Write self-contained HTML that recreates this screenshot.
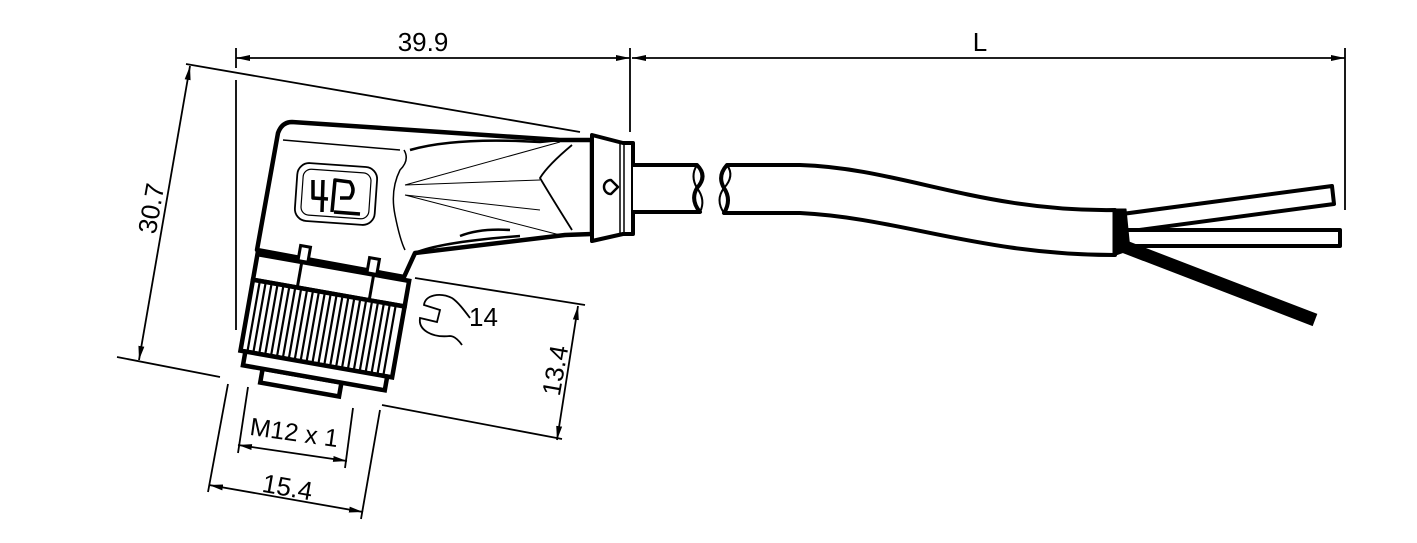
<!DOCTYPE html>
<html><head><meta charset="utf-8"><style>
html,body{margin:0;padding:0;background:#fff;width:1417px;height:543px;overflow:hidden}
text{font-family:"Liberation Sans",Arial,sans-serif;fill:#000}
</style></head><body>
<svg width="1417" height="543" viewBox="0 0 1417 543" xmlns="http://www.w3.org/2000/svg">
<defs>
<marker id="a" markerWidth="14" markerHeight="8" refX="14" refY="4" orient="auto" markerUnits="userSpaceOnUse"><path d="M0,1 L14,4 L0,7 Z" fill="#000"/></marker>
<marker id="b" markerWidth="14" markerHeight="8" refX="0" refY="4" orient="auto" markerUnits="userSpaceOnUse"><path d="M14,1 L0,4 L14,7 Z" fill="#000"/></marker>
</defs>
<g stroke="#000" fill="none" stroke-width="1.8">
<line x1="236" y1="48" x2="236" y2="68"/>
<line x1="630" y1="48" x2="630" y2="132"/>
<line x1="1345" y1="48" x2="1345" y2="210"/>
<line x1="236" y1="58" x2="630" y2="58" marker-start="url(#b)" marker-end="url(#a)"/>
<line x1="632" y1="58" x2="1345" y2="58" marker-start="url(#b)" marker-end="url(#a)"/>
<line x1="236" y1="80" x2="236" y2="330"/>
<line x1="186" y1="64" x2="580" y2="132"/>
<line x1="117" y1="357" x2="220" y2="377"/>
<line x1="190" y1="66" x2="139" y2="360" marker-start="url(#b)" marker-end="url(#a)"/>
<line x1="415" y1="278" x2="585" y2="305"/>
<line x1="382" y1="405" x2="562" y2="439"/>
<line x1="578" y1="306" x2="557" y2="440" marker-start="url(#b)" marker-end="url(#a)"/>
<line x1="248" y1="387" x2="238" y2="453"/>
<line x1="353" y1="408" x2="345" y2="468"/>
<line x1="238" y1="445" x2="347" y2="461" marker-start="url(#b)" marker-end="url(#a)"/>
<line x1="228" y1="384" x2="208" y2="492"/>
<line x1="380" y1="410" x2="361" y2="519"/>
<line x1="209" y1="485" x2="363" y2="512" marker-start="url(#b)" marker-end="url(#a)"/>
</g>
<text x="423" y="51" font-size="26" text-anchor="middle">39.9</text>
<text x="980" y="51" font-size="26" text-anchor="middle">L</text>
<text font-size="26" text-anchor="middle" transform="translate(160,210) rotate(-80)">30.7</text>
<text font-size="26" text-anchor="middle" transform="translate(564,372) rotate(-80)">13.4</text>
<text font-size="25" text-anchor="middle" transform="translate(293,441) rotate(8)">M12 x 1</text>
<text font-size="26" text-anchor="middle" transform="translate(286,496) rotate(10)">15.4</text>
<text x="469" y="326" font-size="26">14</text>
<path d="M452,298 C440,292 425,295 424,305 L440,310 L437,322 L420,318 C418,330 432,338 450,336 C455,336 460,342 462,345 M452,298 C458,302 464,310 470,318" stroke="#000" stroke-width="1.8" fill="none"/>
<g stroke="#000" fill="#fff" stroke-linejoin="round">
<path d="M292,122 L560,140 L592,140 L592,234 L565,235 L415,253 L404,277 L257,250 L278,133 Q282,122 292,122 Z" stroke-width="4.5"/>
<path d="M283,140 L400,150 M404,150 Q410,160 400,170 Q390,190 395,215 Q400,240 405,250" stroke-width="1.5" fill="none"/>
<path d="M410,150 Q455,137 540,142 L560,140 M415,253 Q440,242 520,236" stroke-width="2.5" fill="none"/>
<path d="M405,185 L560,142 M405,185 L540,180 M405,195 L540,210 M405,195 L560,235" stroke-width="1" fill="none"/>
<path d="M572,145 Q548,165 540,178 Q550,195 572,230" stroke-width="1.8" fill="none"/>
<path d="M460,236 Q480,228 510,230" stroke-width="2.5" fill="none"/>
<rect x="296" y="165" width="80" height="58" rx="12" stroke-width="1.8" transform="rotate(4,336,194)"/>
<rect x="302" y="171" width="68" height="46" rx="8" stroke-width="1.2" transform="rotate(4,336,194)"/>
<path d="M313,180 L313,198 L328,199 M323,180 L322,212 M332,212 L335,180 L350,182 Q356,190 350,198 L340,198 M334,212 L360,214" stroke-width="3.5" fill="none"/>
<path d="M592,135 L623,143 L633,143 L633,234 L623,234 L592,241 Z" stroke-width="4"/>
<line x1="620" y1="143" x2="620" y2="234" stroke-width="1.5"/>
<line x1="624" y1="143" x2="624" y2="234" stroke-width="1.5"/>
<path d="M611,180 L618,187 L611,194 A7,7 0 1 1 611,180 Z" stroke-width="2.5"/>
<path d="M633,165 L697,165 Q708,176 697,188 Q690,200 700,212 L633,212" stroke-width="4"/>
<path d="M697,165 Q690,176 697,188 Q706,200 700,212" stroke-width="2" fill="none"/>
<path d="M1115,210 C980,212 900,168 800,165 L727,165 Q717,176 724,188 Q732,200 724,213 L800,213 C900,218 980,255 1115,255 Z" stroke-width="4"/>
<path d="M727,165 Q735,176 724,188 Q715,200 724,213" stroke-width="2" fill="none"/>
<path d="M1122,214 L1332,186 L1334,204 L1124,232 Z" stroke-width="4"/>
<rect x="1124" y="230" width="216" height="16" stroke-width="4"/>
<line x1="1120" y1="245" x2="1315" y2="320" stroke-width="13" stroke-linecap="butt"/>
<path d="M1113,209 L1126,209 L1130,250 L1113,256 Z" fill="#000" stroke-width="1"/>
</g>
<g transform="rotate(10,320,320)" stroke="#000" fill="#fff" stroke-width="4.5">
<rect x="288" y="250" width="10" height="20" stroke-width="3"/>
<rect x="358" y="250" width="10" height="20" stroke-width="3"/>
<rect x="272" y="378" width="80" height="14"/>
<rect x="247" y="266" width="154" height="26"/>
<line x1="292" y1="266" x2="292" y2="292" stroke-width="3"/>
<line x1="365" y1="266" x2="365" y2="292" stroke-width="3"/>
<rect x="247" y="292" width="154" height="72"/>
<rect x="252" y="364" width="144" height="14"/>
<g stroke-width="2.2">
<path d="M254,294 V362 M260,294 V362 M266,294 V362 M272,294 V362 M278,294 V362 M284,294 V362 M290,294 V362 M296,294 V362 M302,294 V362 M308,294 V362 M314,294 V362 M320,294 V362 M326,294 V362 M332,294 V362 M338,294 V362 M344,294 V362 M350,294 V362 M356,294 V362 M362,294 V362 M368,294 V362 M374,294 V362 M380,294 V362 M386,294 V362 M392,294 V362"/>
</g>
</g>
</svg>
</body></html>
